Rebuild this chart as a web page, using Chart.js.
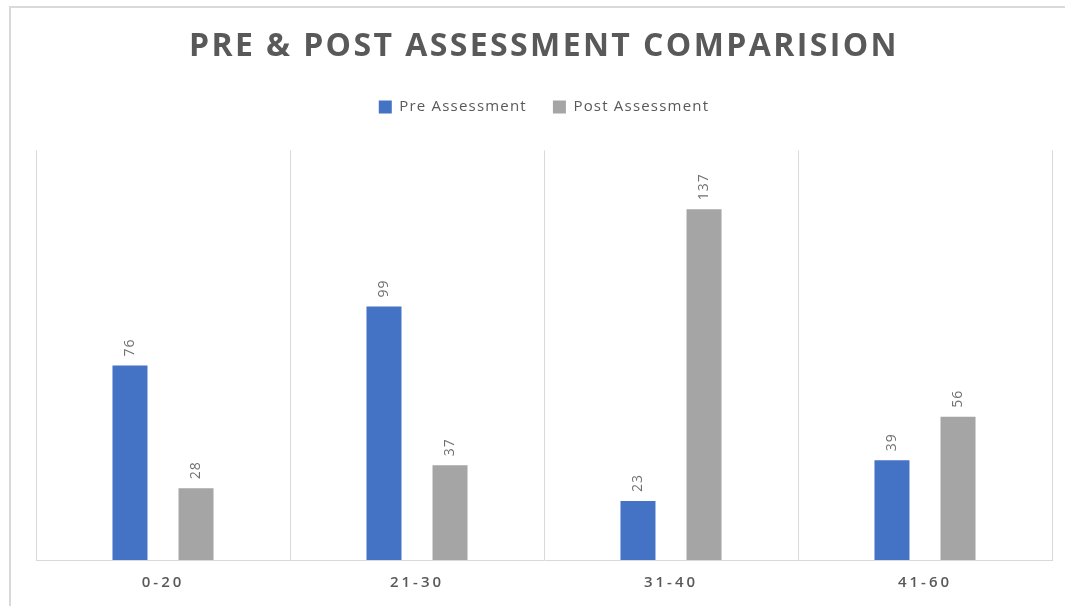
<!DOCTYPE html>
<html>
<head>
<meta charset="utf-8">
<script src="https://cdn.jsdelivr.net/npm/chart.js@4.4.1/dist/chart.umd.min.js"></script>
<style>
  html, body { margin: 0; padding: 0; background: #ffffff; }
  #wrap { position: relative; width: 1065px; height: 606px; }
  #frame { position: absolute; left: 9px; top: 6px; width: 1070px; height: 620px;
           border-left: 2px solid #d9d9d9; border-top: 2px solid #d9d9d9; pointer-events: none; }
  canvas { position: absolute; left: 0; top: 0; }
</style>
</head>
<body>
<div id="wrap">
  <canvas id="c" width="1065" height="606"></canvas>
  <div id="frame"></div>
</div>
<script>
const categories = ["0-20", "21-30", "31-40", "41-60"];
const preAssessment = [76, 99, 23, 39];
const postAssessment = [28, 37, 137, 56];
const seriesNames = ["Pre Assessment", "Post Assessment"];

function withSpacing(chart, fn, sp) {
  return function () {
    const ctx = chart.ctx;
    ctx.save();
    ctx.letterSpacing = sp;
    const r = fn.apply(this, arguments);
    ctx.restore();
    return r;
  };
}

const spacingPlugin = {
  id: 'spacing',
  afterInit(chart) {
    const tb = chart.titleBlock;
    if (tb) {
      tb.draw = withSpacing(chart, tb.draw, '2.4px');
    }
    const lg = chart.legend;
    if (lg) {
      lg.draw = withSpacing(chart, lg.draw, '1.2px');
      const origFit = withSpacing(chart, lg.fit, '1.2px');
      lg.fit = function () {
        origFit.apply(this, arguments);
        this.height = 77;
      };
    }
  },
  beforeDraw(chart) {
    const sx = chart.scales.x;
    if (sx && !sx._spaced) {
      sx._spaced = true;
      sx.drawLabels = withSpacing(chart, sx.drawLabels, '3px');
    }
  }
};

const valueLabels = {
  id: 'valueLabels',
  afterDatasetsDraw(chart) {
    const ctx = chart.ctx;
    chart.data.datasets.forEach((ds, di) => {
      const meta = chart.getDatasetMeta(di);
      meta.data.forEach((bar, i) => {
        ctx.save();
        ctx.translate(bar.x, bar.y - 9);
        ctx.rotate(-Math.PI / 2);
        ctx.letterSpacing = '1px';
        ctx.font = '14px "Open Sans", sans-serif';
        ctx.fillStyle = '#707070';
        ctx.textAlign = 'left';
        ctx.textBaseline = 'middle';
        ctx.fillText(String(ds.data[i]), 0, 0);
        ctx.restore();
      });
    });
  }
};

new Chart(document.getElementById('c'), {
  type: 'bar',
  data: {
    labels: categories,
    datasets: [
      { label: seriesNames[0], data: preAssessment, backgroundColor: '#4472C4' },
      { label: seriesNames[1], data: postAssessment, backgroundColor: '#A5A5A5' }
    ]
  },
  options: {
    responsive: false,
    animation: false,
    devicePixelRatio: 1,
    categoryPercentage: 0.52,
    barPercentage: 0.53,
    layout: { padding: { left: 36, right: 13, top: 0, bottom: 0 } },
    plugins: {
      title: {
        display: true,
        text: 'PRE & POST ASSESSMENT COMPARISION',
        color: '#595959',
        font: { family: '"Open Sans", sans-serif', size: 32, weight: 'bold' },
        padding: { top: 28, bottom: 7 }
      },
      legend: {
        display: true,
        position: 'top',
        labels: {
          color: '#595959',
          font: { family: '"Open Sans", sans-serif', size: 15 },
          boxWidth: 13,
          boxHeight: 13,
          padding: 26
        }
      },
      tooltip: { enabled: false }
    },
    scales: {
      x: {
        afterFit(scale) { scale.height = 46; },
        grid: { display: true, color: '#d9d9d9', lineWidth: 1, drawTicks: false, offset: true },
        border: { display: true, color: '#d9d9d9', width: 1 },
        ticks: { color: '#595959', font: { family: '"Open Sans", sans-serif', size: 15, weight: '600' }, padding: 14 }
      },
      y: {
        display: false,
        min: 0,
        max: 160
      }
    }
  },
  plugins: [spacingPlugin, valueLabels]
});
</script>
</body>
</html>
